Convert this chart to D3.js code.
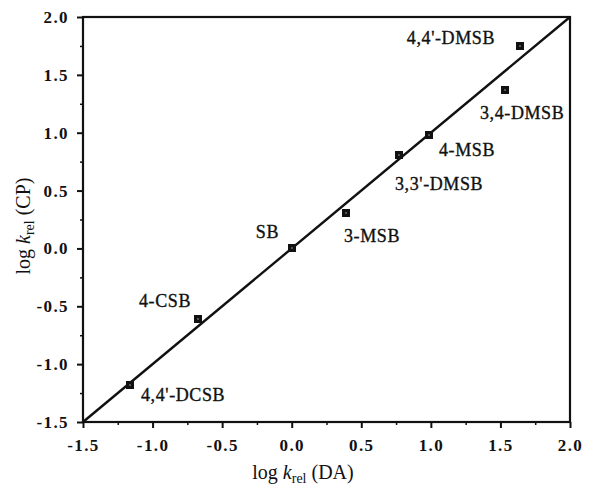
<!DOCTYPE html>
<html>
<head>
<meta charset="utf-8">
<script src="https://cdn.jsdelivr.net/npm/d3@7"></script>
<style>
  html, body { margin: 0; padding: 0; background: #fff; }
  text { font-family: "Liberation Serif", "DejaVu Serif", serif; fill: #111; }
  .tick-label { font-size: 17px; font-weight: bold; letter-spacing: 1.4px; }
  .pt-label { font-size: 18px; letter-spacing: 0.6px; stroke: #111; stroke-width: 0.35px; }
  .axis-title { font-size: 20px; }
</style>
</head>
<body>
<div id="chartDiv"></div>
<script>
'use strict';

// data
const compounds = ["4,4'-DCSB", "4-CSB", "SB", "3-MSB", "3,3'-DMSB", "4-MSB", "3,4-DMSB", "4,4'-DMSB"];
const logKrelDA = [-1.16, -0.67, 0.0, 0.39, 0.77, 0.99, 1.53, 1.64];
const logKrelCP = [-1.18, -0.61, 0.0, 0.31, 0.81, 0.98, 1.37, 1.75];
const fitLineX = [-1.5, 2.0];   // y = x
const xTicks = [-1.5, -1.0, -0.5, 0.0, 0.5, 1.0, 1.5, 2.0];
const yTicks = [-1.5, -1.0, -0.5, 0.0, 0.5, 1.0, 1.5, 2.0];
const minorTicks = [-1.25, -0.75, -0.25, 0.25, 0.75, 1.25, 1.75];

// label placement relative to each point: [dx, dy, anchor]
const labelPlacement = [
    [11, 16, 'start'],
    [-7, -12, 'end'],
    [-13, -10, 'end'],
    [-2, 29, 'start'],
    [-4, 35, 'start'],
    [10, 21, 'start'],
    [-25, 29, 'start'],
    [-25, -2, 'end']
];

const width = 589;
const height = 497;
const margin = { top: 17, right: 19, bottom: 75, left: 83 };

const svg = d3.select('#chartDiv')
    .append('svg')
    .attr('width', width)
    .attr('height', height);

const xScale = d3.scaleLinear()
    .domain([-1.5, 2.0])
    .range([margin.left, width - margin.right]);

const yScale = d3.scaleLinear()
    .domain([-1.5, 2.0])
    .range([height - margin.bottom, margin.top]);

// plain hyphen for negatives, like the original
const fmt = v => d3.format('.1f')(v).replace('\u2212', '-');

// bottom axis, major + minor ticks pointing outward
svg.append('g')
    .attr('transform', `translate(0,${yScale(-1.5)})`)
    .call(d3.axisBottom(xScale).tickValues(minorTicks).tickSize(3).tickFormat(''))
    .call(g => g.select('.domain').remove())
    .selectAll('line').attr('stroke', '#111').attr('stroke-width', 1.5);

svg.append('g')
    .attr('transform', `translate(0,${yScale(-1.5)})`)
    .call(d3.axisBottom(xScale).tickValues(xTicks).tickSize(6).tickSizeOuter(0).tickFormat(fmt).tickPadding(11))
    .call(g => g.select('.domain').remove())
    .call(g => g.selectAll('line').attr('stroke', '#111').attr('stroke-width', 2))
    .call(g => g.selectAll('text').attr('class', 'tick-label').attr('font-size', null).attr('font-family', null));

// left axis
svg.append('g')
    .attr('transform', `translate(${xScale(-1.5)},0)`)
    .call(d3.axisLeft(yScale).tickValues(minorTicks).tickSize(3).tickFormat(''))
    .call(g => g.select('.domain').remove())
    .selectAll('line').attr('stroke', '#111').attr('stroke-width', 1.5);

svg.append('g')
    .attr('transform', `translate(${xScale(-1.5)},0)`)
    .call(d3.axisLeft(yScale).tickValues(yTicks).tickSize(6).tickSizeOuter(0).tickFormat(fmt).tickPadding(8))
    .call(g => g.select('.domain').remove())
    .call(g => g.selectAll('line').attr('stroke', '#111').attr('stroke-width', 2))
    .call(g => g.selectAll('text').attr('class', 'tick-label').attr('font-size', null).attr('font-family', null));

// frame
svg.append('rect')
    .attr('x', xScale(-1.5))
    .attr('y', yScale(2.0))
    .attr('width', xScale(2.0) - xScale(-1.5))
    .attr('height', yScale(-1.5) - yScale(2.0))
    .attr('fill', 'none')
    .attr('stroke', '#111')
    .attr('stroke-width', 2.2);

// fitted line y = x
const line = d3.line()
    .x(d => xScale(d))
    .y(d => yScale(d));

svg.append('path')
    .datum(fitLineX)
    .attr('d', line)
    .attr('fill', 'none')
    .attr('stroke', '#111')
    .attr('stroke-width', 2.4);

// points
const points = compounds.map((name, i) => ({ name, x: logKrelDA[i], y: logKrelCP[i], place: labelPlacement[i] }));

const ptSize = 8;
const pt = svg.append('g').selectAll('g')
    .data(points)
    .join('g')
    .attr('transform', d => `translate(${Math.round(xScale(d.x))},${Math.round(yScale(d.y))})`);

pt.append('rect')
    .attr('x', -ptSize / 2)
    .attr('y', -ptSize / 2)
    .attr('width', ptSize)
    .attr('height', ptSize)
    .attr('fill', '#111');

// small light speck in the middle of each marker
pt.append('rect')
    .attr('x', -0.75)
    .attr('y', -0.75)
    .attr('width', 1.5)
    .attr('height', 1.5)
    .attr('fill', '#888');

pt.append('text')
    .attr('class', 'pt-label')
    .attr('x', d => d.place[0])
    .attr('y', d => d.place[1])
    .attr('text-anchor', d => d.place[2])
    .text(d => d.name);

// axis titles
const xTitle = svg.append('text')
    .attr('class', 'axis-title')
    .attr('x', 303)
    .attr('y', 479)
    .attr('text-anchor', 'middle');
xTitle.append('tspan').text('log  ');
xTitle.append('tspan').attr('font-style', 'italic').text('k');
xTitle.append('tspan').attr('font-size', '14px').attr('dy', 4).text('rel');
xTitle.append('tspan').attr('dy', -4).text(' (DA)');

const yTitle = svg.append('text')
    .attr('class', 'axis-title')
    .attr('transform', 'translate(30,226) rotate(-90)')
    .attr('text-anchor', 'middle');
yTitle.append('tspan').text('log  ');
yTitle.append('tspan').attr('font-style', 'italic').text('k');
yTitle.append('tspan').attr('font-size', '14px').attr('dy', 4).text('rel');
yTitle.append('tspan').attr('dy', -4).text(' (CP)');
</script>
</body>
</html>
